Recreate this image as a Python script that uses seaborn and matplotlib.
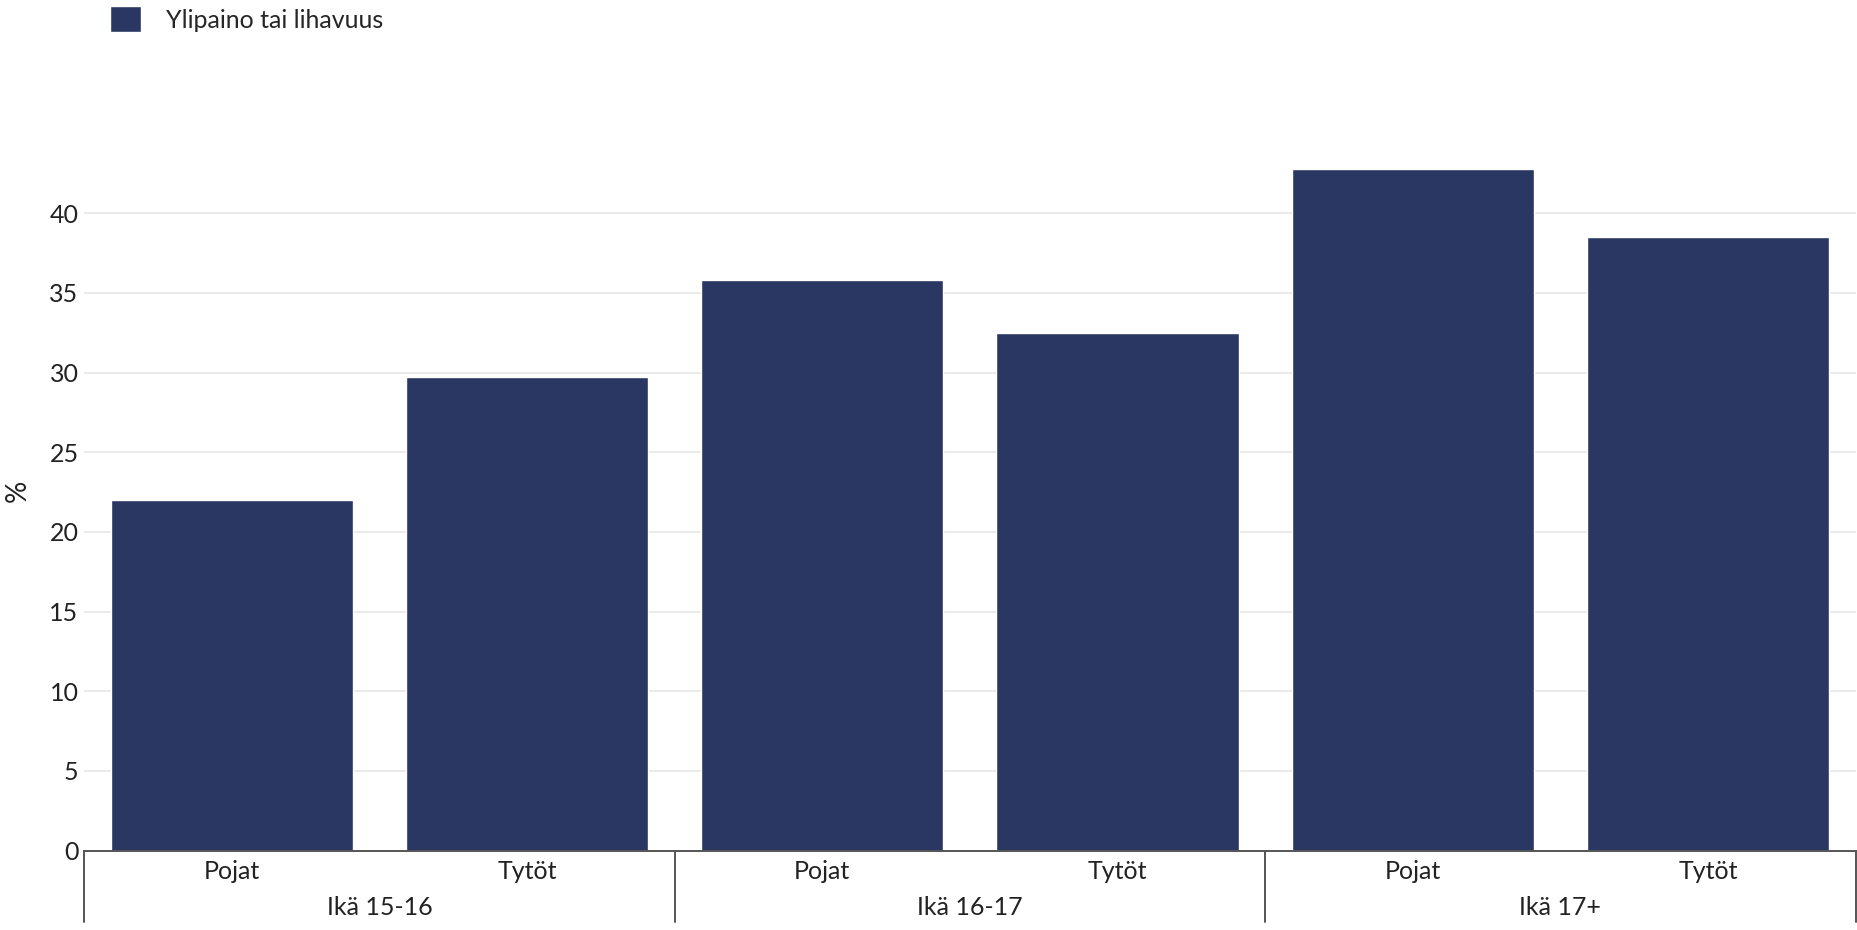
import pandas as pd
import numpy as np
import matplotlib
matplotlib.use("Agg")
import matplotlib.pyplot as plt
import matplotlib.transforms as mtransforms
import seaborn as sns

# ==========================================
# DATA
# ==========================================

age_groups = ["Ikä 15-16", "Ikä 16-17", "Ikä 17+"]
sexes = ["Pojat", "Tytöt"]
series_name = "Ylipaino tai lihavuus"
values = [22.0, 29.7, 35.8, 32.5, 42.8, 38.5]

bar_color = "#2b3763"

rows = []
i = 0
for g in age_groups:
    for s in sexes:
        rows.append({"key": g + "|" + s, "group": g, "sex": s,
                     "series": series_name, "value": values[i]})
        i += 1
df = pd.DataFrame(rows)

# ==========================================
# FIGURE
# ==========================================

sns.set_theme(style="white")
plt.rcParams["font.family"] = ["Lato", "DejaVu Sans"]

fs = 18

fig = plt.figure(figsize=(18.57, 9.3), dpi=100)
ax_box = [0.0453, 0.0854, 0.954, 0.7624]
ax = fig.add_axes(ax_box)

sns.barplot(
    data=df,
    x="key",
    y="value",
    hue="series",
    order=list(df["key"]),
    palette=[bar_color],
    width=0.82,
    saturation=1,
    ax=ax
)

ax.set_ylim(0, 44.5)
ax.set_xlim(-0.5, len(df) - 0.5)
ax.set_yticks(np.arange(0, 45, 5))
ax.yaxis.grid(True, color="#e6e6e6", linewidth=1.2)
ax.set_axisbelow(True)

for side in ["top", "right", "left"]:
    ax.spines[side].set_visible(False)
ax.spines["bottom"].set_color("#555555")
ax.spines["bottom"].set_linewidth(1.4)

ax.set_xticks(range(len(df)))
ax.set_xticklabels(df["sex"], fontsize=fs, color="#222222")
ax.tick_params(axis="x", length=0, pad=7)
ax.tick_params(axis="y", length=0, pad=4, labelsize=fs, labelcolor="#222222")
ax.set_xlabel("")
ax.set_ylabel("")

# group labels and separators below the axis
trans = mtransforms.blended_transform_factory(ax.transData, ax.transAxes)
axes_h_px = ax_box[3] * 930
sep_frac = 71 / axes_h_px
n = len(sexes)
for k, g in enumerate(age_groups):
    center = k * n + (n - 1) / 2
    ax.annotate(g, xy=(center, 0), xycoords=trans, xytext=(0, -41),
                textcoords="offset points", ha="center", va="center",
                fontsize=fs, color="#222222", annotation_clip=False)
for k in range(len(age_groups) + 1):
    xpos = k * n - 0.5
    ax.plot([xpos, xpos], [0, -sep_frac], transform=trans, color="#555555",
            linewidth=1.4, clip_on=False)

# legend
handles, labels = ax.get_legend_handles_labels()
ax.get_legend().remove()
fig.legend(handles, labels, loc="upper left",
           bbox_to_anchor=(110 / 1857, 1 - 6 / 930),
           frameon=False, fontsize=fs, handlelength=1.25, handleheight=1.25,
           handletextpad=1.0, borderpad=0, borderaxespad=0)

fig.text(18 / 1857, 1 - 491 / 930, "%", rotation=90, ha="center",
         va="center", fontsize=20, color="#222222")

fig.savefig("out.png", dpi=100)
